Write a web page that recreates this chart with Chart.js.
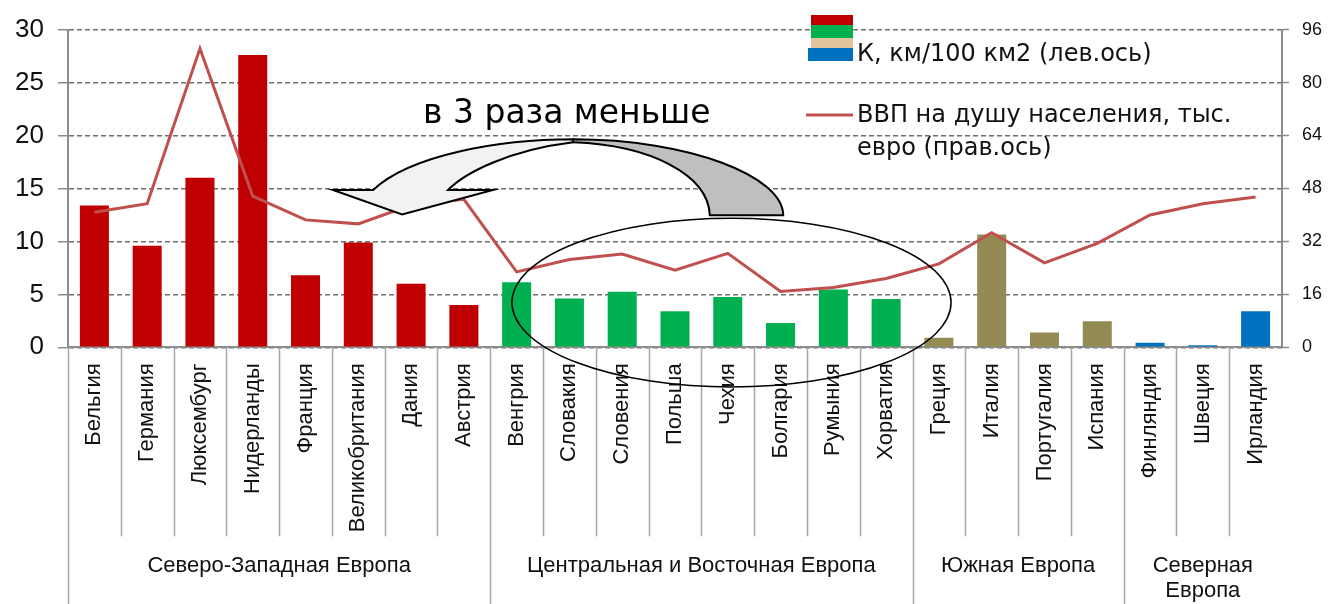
<!DOCTYPE html>
<html><head><meta charset="utf-8">
<script src="https://cdn.jsdelivr.net/npm/chart.js@4.4.0/dist/chart.umd.min.js"></script>
<style>html,body{margin:0;padding:0;background:#fff;}#wrap{width:1328px;height:604px;}</style>
</head><body><div id="wrap"><canvas id="c" width="1328" height="604"></canvas></div>
<script>
const countries = ['Бельгия','Германия','Люксембург','Нидерланды','Франция','Великобритания','Дания','Австрия',
  'Венгрия','Словакия','Словения','Польша','Чехия','Болгария','Румыния','Хорватия',
  'Греция','Италия','Португалия','Испания','Финляндия','Швеция','Ирландия'];
const groupNames = ['Северо-Западная Европа','Центральная и Восточная Европа','Южная Европа','Северная\nЕвропа'];
const groupSizes = [8, 8, 4, 3];
const groupColors = ['#C00000','#00B050','#948A54','#0070C0'];
const density = [13.4, 9.6, 16.0, 27.6, 6.8, 9.9, 6.0, 4.0,
  6.15, 4.6, 5.25, 3.4, 4.75, 2.3, 5.45, 4.55,
  0.9, 10.65, 1.4, 2.45, 0.42, 0.2, 3.4];
const gdp = [40.8, 43.4, 90.3, 45.7, 38.5, 37.3, 43.0, 44.7,
  22.8, 26.5, 28.2, 23.3, 28.4, 16.9, 18.1, 20.8,
  25.2, 34.6, 25.5, 31.4, 40.0, 43.4, 45.4];
const leftTicks = [0, 5, 10, 15, 20, 25, 30];
const rightTicks = [0, 16, 32, 48, 64, 80, 96];
const densityLabel = 'К, км/100 км2 (лев.ось)';
const gdpLabel = ['ВВП на душу населения, тыс.', 'евро (прав.ось)'];
const noteText = 'в 3 раза меньше';

const FONT = "'Liberation Sans', Arial, sans-serif";
const WFONT = "'DejaVu Sans', Verdana, sans-serif";
const barColors = [];
groupSizes.forEach((n, g) => { for (let k = 0; k < n; k++) barColors.push(groupColors[g]); });

const decor = {
  id: 'decor',
  afterDraw(chart) {
    const ctx = chart.ctx;
    const xs = chart.scales.x, ys = chart.scales.y;
    const N = countries.length;
    const cw = (xs.right - xs.left) / N;
    const A = (i, v) => [xs.left + (i + 0.5) * cw, ys.getPixelForValue(v)];
    const H = chart.height;
    const bottom = ys.bottom;

    // category separators and group separators
    ctx.save();
    ctx.strokeStyle = '#A6A6A6';
    ctx.lineWidth = 1.5;
    const bounds = [0]; groupSizes.reduce((s, n) => { bounds.push(s + n); return s + n; }, 0);
    for (let k = 0; k < N; k++) {
      const x = Math.round(xs.left + k * cw) + 0.5;
      const isGroup = bounds.includes(k);
      ctx.beginPath();
      ctx.moveTo(x, bottom);
      ctx.lineTo(x, isGroup ? H : bottom + 189);
      ctx.stroke();
    }
    // group labels
    ctx.fillStyle = '#111';
    ctx.font = '22px ' + FONT;
    ctx.textAlign = 'center';
    ctx.textBaseline = 'middle';
    let start = 0;
    groupSizes.forEach((n, g) => {
      const cx = xs.left + (start + n / 2) * cw;
      const lines = groupNames[g].split('\n');
      lines.forEach((ln, li) => ctx.fillText(ln, cx, 566 + li * 25));
      start += n;
    });
    ctx.restore();

    // curved arrow (front part)
    ctx.save();
    ctx.lineWidth = 2;
    ctx.strokeStyle = '#000';
    ctx.lineJoin = 'miter';
    ctx.beginPath();
    let p = A(9.07, 19.64); ctx.moveTo(p[0], p[1]);
    let c1 = A(7.68, 19.64), c2 = A(5.98, 18.17); p = A(5.28, 14.85);
    ctx.bezierCurveTo(c1[0], c1[1], c2[0], c2[1], p[0], p[1]);
    p = A(4.52, 14.85); ctx.lineTo(p[0], p[1]);
    p = A(5.83, 12.55); ctx.lineTo(p[0], p[1]);
    p = A(7.55, 14.85); ctx.lineTo(p[0], p[1]);
    p = A(6.70, 14.85); ctx.lineTo(p[0], p[1]);
    c1 = A(7.02, 16.51); c2 = A(7.87, 18.63); p = A(9.07, 19.36);
    ctx.bezierCurveTo(c1[0], c1[1], c2[0], c2[1], p[0], p[1]);
    ctx.closePath();
    ctx.fillStyle = '#F2F2F2';
    ctx.fill(); ctx.stroke();
    // back part
    ctx.beginPath();
    p = A(9.07, 19.64); ctx.moveTo(p[0], p[1]);
    c1 = A(11.28, 19.64); c2 = A(13.05, 16.14); p = A(13.05, 12.46);
    ctx.bezierCurveTo(c1[0], c1[1], c2[0], c2[1], p[0], p[1]);
    p = A(11.66, 12.46); ctx.lineTo(p[0], p[1]);
    c1 = A(11.63, 16.33); c2 = A(10.53, 19.09); p = A(9.07, 19.36);
    ctx.bezierCurveTo(c1[0], c1[1], c2[0], c2[1], p[0], p[1]);
    ctx.closePath();
    ctx.fillStyle = '#BFBFBF';
    ctx.fill(); ctx.stroke();
    ctx.restore();

    // ellipse
    ctx.save();
    const ec = A(12.07, 4.22);
    const rx = 4.16 * cw;
    const ry = ys.getPixelForValue(0) - ys.getPixelForValue(7.97);
    ctx.beginPath();
    ctx.ellipse(ec[0], ec[1], rx, ry, 0, 0, Math.PI * 2);
    ctx.lineWidth = 1.5;
    ctx.strokeStyle = '#000';
    ctx.stroke();
    ctx.restore();

    // note text
    ctx.save();
    const tp = A(8.95, 21.2);
    ctx.font = '33px ' + WFONT;
    ctx.fillStyle = '#000';
    ctx.textAlign = 'center';
    ctx.textBaseline = 'alphabetic';
    ctx.fillText(noteText, tp[0], tp[1]);
    ctx.restore();

    // legend
    ctx.save();
    const lx = 811, lw = 42;
    ctx.fillStyle = groupColors[0]; ctx.fillRect(lx, 15, lw, 10);
    ctx.fillStyle = groupColors[1]; ctx.fillRect(lx, 25, lw, 13);
    ctx.fillStyle = '#E3C49D'; ctx.fillRect(lx, 38, lw, 10);
    ctx.fillStyle = groupColors[3]; ctx.fillRect(lx - 3, 48, lw + 3, 13);
    ctx.strokeStyle = '#C0504D'; ctx.lineWidth = 3;
    ctx.beginPath(); ctx.moveTo(806, 115); ctx.lineTo(853, 115); ctx.stroke();
    ctx.fillStyle = '#111';
    ctx.font = '24px ' + WFONT;
    ctx.textAlign = 'left';
    ctx.textBaseline = 'middle';
    ctx.fillText(densityLabel, 857, 55);
    ctx.fillText(gdpLabel[0], 857, 116);
    ctx.fillText(gdpLabel[1], 857, 149);
    ctx.restore();
  }
};

new Chart(document.getElementById('c'), {
  type: 'bar',
  data: {
    labels: countries,
    datasets: [
      { type: 'line', label: gdpLabel.join(' '), data: gdp, yAxisID: 'y1', borderColor: '#C0504D',
        backgroundColor: '#C0504D', borderWidth: 3, pointRadius: 0, tension: 0, order: 0 },
      { type: 'bar', label: densityLabel, data: density, yAxisID: 'y', backgroundColor: barColors,
        categoryPercentage: 1, barPercentage: 0.55, order: 1 }
    ]
  },
  options: {
    responsive: false, animation: false, devicePixelRatio: 1,
    layout: { padding: { top: 21.5, left: 0, right: 0, bottom: 0 } },
    plugins: { legend: { display: false }, tooltip: { enabled: false } },
    scales: {
      x: {
        grid: { display: false, drawTicks: false },
        border: { display: true, color: '#8C8C8C', width: 2 },
        ticks: { autoSkip: false, minRotation: 90, maxRotation: 90, padding: 16,
          color: '#111', font: { family: FONT, size: 22 } },
        afterFit(s) { s.height = 256.7; }
      },
      y: {
        position: 'left', min: 0, max: 30,
        afterBuildTicks(s) { s.ticks = leftTicks.map(v => ({ value: v })); },
        ticks: { color: '#111', padding: 14, font: { family: FONT, size: 26 } },
        grid: { color: '#6E6E6E', lineWidth: 1.5, tickLength: 10, tickColor: '#8C8C8C', tickWidth: 1.5 },
        border: { display: true, color: '#8C8C8C', width: 2, dash: [5, 3] },
        afterFit(s) { s.width = 68; }
      },
      y1: {
        position: 'right', min: 0, max: 96,
        afterBuildTicks(s) { s.ticks = rightTicks.map(v => ({ value: v })); },
        ticks: { color: '#111', padding: 13, font: { family: FONT, size: 18 } },
        grid: { drawOnChartArea: false, tickLength: 7, tickColor: '#8C8C8C', tickWidth: 1.5 },
        border: { display: true, color: '#8C8C8C', width: 2 },
        afterFit(s) { s.width = 46; }
      }
    }
  },
  plugins: [decor]
});
</script>
</body></html>
